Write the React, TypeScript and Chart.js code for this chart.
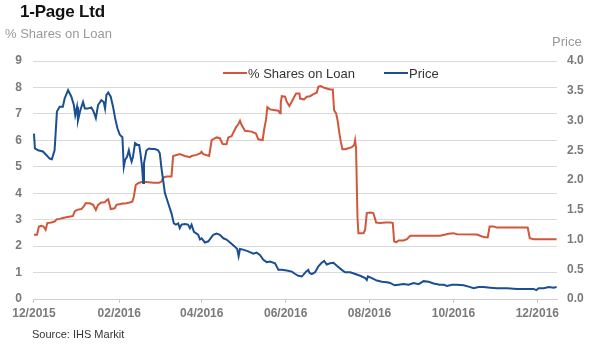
import React, { useEffect, useRef } from "react";
import { Chart, registerables } from "chart.js";

Chart.register(...registerables);

// x values are days counted from 1 Dec 2015
const tickDays = [0, 62, 122, 183, 244, 305, 366];
const tickLabels = ["12/2015", "02/2016", "04/2016", "06/2016", "08/2016", "10/2016", "12/2016"];

const loanDays = [
  0, 2.2, 3.6, 5.3, 7, 8.5, 9.7, 12.6, 15, 16.7, 18.7, 21.1, 23.5, 26.5, 28.4, 29.6, 31.3, 34.5, 36.2, 37.6,
  40.5, 43, 45, 46.6, 49, 51.5, 53.2, 54, 55.8, 58.7, 60, 63.6, 67.2, 69.7, 71.6, 72.6, 74, 75.7, 78.2, 81.8,
  86.7, 91, 92.7, 94, 96.4, 100, 101.2, 106, 109.7, 113.4, 114.6, 118.2, 121.1, 121.8, 123.1, 127.4, 129.2,
  132.8, 135.2, 137.2, 140, 141.3, 143.7, 144.9, 146.9, 148.6, 149.8, 151, 153.4, 158.3, 161.4, 163.1, 166.3,
  167.3, 168.7, 169.7, 171.6, 175.3, 177.7, 178.9, 179.4, 180.2, 182.6, 183.8, 185.7, 187.4, 189.3, 190.6,
  193, 193.5, 196.4, 198.3, 200.7, 203.2, 205.6, 206.8, 208.5, 210.5, 212.9, 215.3, 217.3, 218.2, 219.7,
  220.7, 222.1, 223.1, 224.3, 226.2, 228.7, 231.1, 232.8, 233.5, 234.2, 235.2, 235.9, 239.6, 240.8, 242,
  244.4, 246.8, 248.8, 251.7, 255.4, 259.5, 260.9, 261.9, 263.4, 265.1, 268.7, 271.2, 273.6, 285, 295.4,
  301.5, 305, 307.5, 322.1, 324.5, 327, 329.9, 331.3, 334.2, 336.7, 359, 360.5, 363.3, 380,
];
const loanPct = [
  2.43, 2.43, 2.74, 2.77, 2.74, 2.62, 2.87, 2.89, 2.93, 3.02, 3.03, 3.06, 3.09, 3.12, 3.14, 3.31, 3.37, 3.4, 3.5, 3.62,
  3.62, 3.56, 3.37, 3.56, 3.65, 3.66, 3.75, 3.77, 3.4, 3.43, 3.56, 3.6, 3.62, 3.65, 3.69, 3.87, 4.31, 4.38, 4.42, 4.42,
  4.4, 4.4, 4.44, 4.59, 4.63, 4.63, 5.41, 5.48, 5.41, 5.36, 5.41, 5.45, 5.51, 5.57, 5.48, 5.41, 6.01,
  6.11, 6.08, 5.86, 5.85, 6.11, 6.16, 6.29, 6.49, 6.62, 6.74, 6.58, 6.36, 6.33, 6.26, 6.04, 6.01,
  6.39, 6.77, 7.25, 7.17, 7.14, 7.12, 7.02, 7.4, 7.67, 7.65, 7.46, 7.3, 7.46, 7.65, 7.77,
  7.77, 7.58, 7.55, 7.65, 7.67, 7.75, 7.8, 8.03, 8.05, 8.0, 7.96, 7.92, 7.92, 7.14, 7.02,
  6.77, 6.26, 5.95, 5.66, 5.66, 5.7, 5.74, 5.82, 6.01, 5.7, 3.12, 2.49, 2.49, 2.62, 3.25,
  3.27, 3.25, 2.89, 2.87, 2.89, 2.89, 2.87, 2.18, 2.14, 2.21, 2.21, 2.26, 2.39, 2.39, 2.39,
  2.47, 2.49, 2.45, 2.44, 2.39, 2.34, 2.33, 2.74, 2.74, 2.7, 2.7, 2.3, 2.26, 2.26,
];

const priceDays = [
  0, 0.7, 3, 6.5, 9, 11.4, 13, 15, 16.7, 18.7, 21, 22.3, 24.8, 27.2, 29, 30, 31.3, 32, 33.7, 35.7, 37, 39,
  41.7, 43.4, 45, 46.6, 49, 50.7, 51.7, 52.7, 54, 55.8, 57.5, 59, 60.7, 62.4, 64.3, 65.3, 66.3, 67.7, 69, 70,
  71, 72, 73.5, 75.2, 76.5, 77.4, 78.6, 79.4, 80, 81.8, 83.7, 85.4, 87.9, 90.3, 91.5, 92.7, 93.9, 95.2, 97.6,
  100, 101.7, 103.2, 104.9, 106, 107.3, 109.7, 112, 113.4, 114.6, 116.3, 119.4, 120.7, 121.9, 124.3, 126.8,
  128.4, 130.4, 132.8, 135.2, 137.7, 140, 143, 146.1, 147.8, 148.8, 149.8, 152, 155.8, 159.5, 161.9, 164.3,
  166.8, 169.2, 171.6, 175.3, 177.7, 180.2, 183.8, 187.5, 189.9, 192.3, 194.7, 196, 197.8, 199.5, 200.3, 202,
  204.4, 206.8, 209.2, 211, 212.9, 215.3, 217.8, 220.2, 223.8, 226.2, 230, 233.6, 237.2, 240.8, 242, 242.8,
  245.7, 249.3, 253, 256.6, 259, 262.2, 265.1, 268.7, 272.4, 276, 279.7, 283.3, 287, 290.6, 295, 298, 300.3,
  304, 307.5, 312.4, 317.3, 319.6, 323.3, 327, 331.8, 336.7, 344, 351.2, 358.5, 363.3, 365.3, 367, 370.6,
  374.3, 377.9, 380,
];
const priceValues = [
  2.78, 2.53, 2.5, 2.48, 2.42, 2.36, 2.35, 2.5, 3.15, 3.23, 3.23, 3.37, 3.51, 3.4, 3.26, 3.09, 3.23, 3.0, 3.17, 3.31, 3.2, 3.2,
  3.22, 3.15, 3.04, 3.26, 3.34, 3.31, 3.2, 3.43, 3.47, 3.4, 3.23, 3.04, 2.87, 2.76, 2.72, 2.22, 2.34, 2.39, 2.5, 2.39,
  2.31, 2.39, 2.62, 2.59, 2.59, 2.45, 2.22, 1.95, 2.28, 2.5, 2.53, 2.52, 2.52, 2.5, 2.45, 2.2, 2.0, 1.78, 1.61,
  1.44, 1.27, 1.25, 1.27, 1.19, 1.25, 1.26, 1.25, 1.19, 1.25, 1.13, 1.08, 1.0, 1.02, 0.95, 0.97,
  1.02, 1.08, 1.1, 1.08, 1.02, 1.0, 0.94, 0.88, 0.84, 0.72, 0.84, 0.83, 0.8, 0.76, 0.78, 0.74,
  0.66, 0.62, 0.63, 0.6, 0.49, 0.49, 0.48, 0.46, 0.42, 0.39, 0.38, 0.41, 0.46, 0.49, 0.44, 0.42,
  0.45, 0.55, 0.61, 0.64, 0.58, 0.6, 0.61, 0.56, 0.49, 0.45, 0.45, 0.42, 0.39, 0.35, 0.32, 0.38,
  0.35, 0.31, 0.29, 0.28, 0.27, 0.23, 0.24, 0.25, 0.24, 0.27, 0.25, 0.3, 0.29, 0.26, 0.24, 0.24, 0.22,
  0.24, 0.24, 0.23, 0.2, 0.18, 0.2, 0.2, 0.19, 0.18, 0.18, 0.17, 0.17, 0.17, 0.15, 0.18, 0.18,
  0.2, 0.19, 0.2,
];

const RED = "#d2573a";
const BLUE = "#1b4f91";
const FONT = "'Liberation Sans', Arial, sans-serif";

export default function App() {
  const ref = useRef<HTMLCanvasElement>(null);

  useEffect(() => {
    if (!ref.current) return;
    const chart = new Chart(ref.current, {
      type: "line",
      data: {
        datasets: [
          {
            label: "Price",
            data: priceDays.map((d, i) => ({ x: d, y: priceValues[i] })),
            yAxisID: "y1",
            borderColor: BLUE,
            backgroundColor: BLUE,
            borderWidth: 2,
            pointRadius: 0,
            tension: 0,
          },
          {
            label: "% Shares on Loan",
            data: loanDays.map((d, i) => ({ x: d, y: loanPct[i] })),
            yAxisID: "y",
            borderColor: RED,
            backgroundColor: RED,
            borderWidth: 2,
            pointRadius: 0,
            tension: 0,
          },
        ],
      },
      options: {
        responsive: false,
        animation: false,
        layout: { padding: { top: 61, left: 0, right: 0, bottom: 0 } },
        plugins: { legend: { display: false }, tooltip: { enabled: false } },
        scales: {
          x: {
            type: "linear",
            min: -0.7,
            max: 380.3,
            afterBuildTicks: (s: any) => {
              s.ticks = tickDays.map((v) => ({ value: v }));
            },
            afterFit: (s: any) => {
              s.height = 52;
            },
            grid: { drawOnChartArea: false, drawTicks: true, tickLength: 4, color: "#c8c8c8" },
            border: { color: "#d0d0d0" },
            ticks: {
              autoSkip: false,
              maxRotation: 0,
              padding: 3,
              color: "#7a7a7a",
              font: { family: FONT, size: 12, weight: "bold" },
              callback: (v: any) => {
                const i = tickDays.indexOf(Number(v));
                return i >= 0 ? tickLabels[i] : "";
              },
            },
          },
          y: {
            position: "left",
            min: 0,
            max: 9,
            afterFit: (s: any) => {
              s.width = 33;
            },
            grid: { color: "#d9d9d9", drawTicks: false },
            border: { display: false },
            ticks: {
              stepSize: 1,
              padding: 11,
              color: "#7a7a7a",
              font: { family: FONT, size: 12, weight: "bold" },
            },
          },
          y1: {
            position: "right",
            min: 0,
            max: 4,
            afterFit: (s: any) => {
              s.width = 33;
            },
            grid: { drawOnChartArea: false, drawTicks: false },
            border: { display: false },
            ticks: {
              stepSize: 0.5,
              padding: 10,
              color: "#7a7a7a",
              font: { family: FONT, size: 12, weight: "bold" },
              callback: (v: any) => Number(v).toFixed(1),
            },
          },
        },
      },
    });
    return () => chart.destroy();
  }, []);

  const txt = (extra: React.CSSProperties): React.CSSProperties => ({
    position: "absolute",
    fontFamily: FONT,
    whiteSpace: "nowrap",
    margin: 0,
    ...extra,
  });

  return (
    <div style={{ position: "fixed", left: 0, top: 0, width: 590, height: 351, background: "#fff", overflow: "hidden" }}>
      <canvas ref={ref} width={590} height={351} style={{ position: "absolute", left: 0, top: 0, width: 590, height: 351 }} />
      <div style={txt({ left: 20, top: 3, fontSize: 17, lineHeight: "17px", fontWeight: "bold", letterSpacing: "-0.2px", color: "#111" })}>1-Page Ltd</div>
      <div style={txt({ left: 5, top: 27, fontSize: 13, lineHeight: "13px", color: "#9a9a9a" })}>% Shares on Loan</div>
      <div style={txt({ left: 552, top: 35, fontSize: 13, lineHeight: "13px", color: "#9a9a9a" })}>Price</div>
      <div style={txt({ left: 223, top: 72, width: 24, height: 2, background: RED })} />
      <div style={txt({ left: 248, top: 67, fontSize: 13, lineHeight: "13px", color: "#333" })}>% Shares on Loan</div>
      <div style={txt({ left: 384, top: 72, width: 24, height: 2, background: BLUE })} />
      <div style={txt({ left: 409, top: 67, fontSize: 13, lineHeight: "13px", color: "#333" })}>Price</div>
      <div style={txt({ left: 32, top: 329, fontSize: 11, lineHeight: "11px", color: "#333" })}>Source: IHS Markit</div>
    </div>
  );
}
